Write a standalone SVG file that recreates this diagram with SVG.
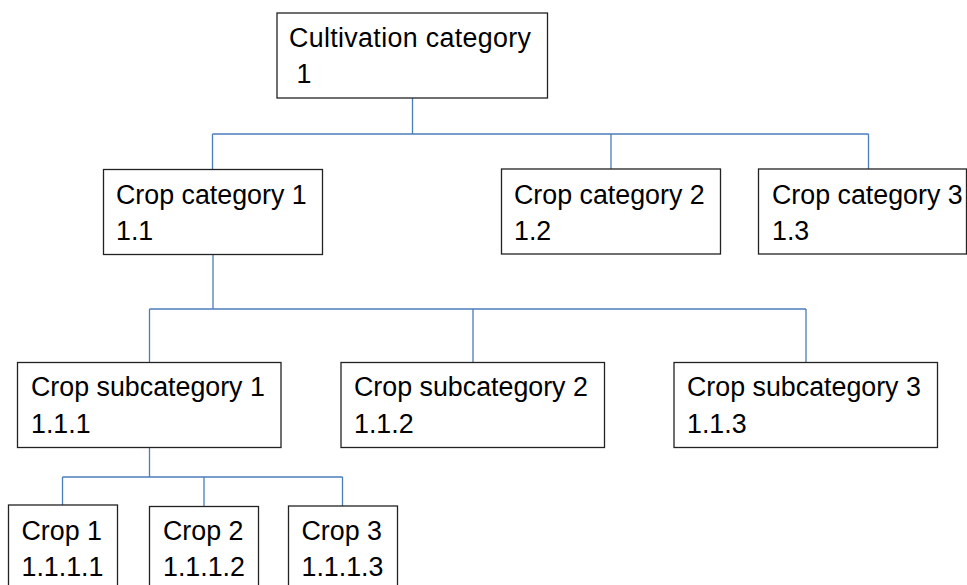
<svg xmlns="http://www.w3.org/2000/svg" width="967" height="585" viewBox="0 0 967 585">
<style>
.box{fill:#fff;stroke:#222;stroke-width:1.3}
.t{font-family:"Liberation Sans",Arial,sans-serif;font-size:26.8px;fill:#000}
.c{fill:none;stroke:#4a7ebb;stroke-width:1.3}
</style>
<rect width="967" height="585" fill="#fff"/>
<g id="connectors">
<path class="c" d="M412.5 98V134M212.5 134H868.5M212.5 134V169M611 134V169M868.5 134V169"/>
<path class="c" d="M213 254V309M149.5 309H806M149.5 309V362M473 309V362M806 309V362"/>
<path class="c" d="M149.5 447V477M62.5 477H342.5M62.5 477V505M204 477V506M342.5 477V506"/>
</g>
<g id="n1"><rect class="box" x="277" y="13" width="270.5" height="85"/><text class="t" x="289" y="47" textLength="242" lengthAdjust="spacing">Cultivation category</text><text class="t" x="289" y="83" xml:space="preserve"> 1</text></g>
<g id="n1_1"><rect class="box" x="103.5" y="169.5" width="219" height="85"/><text class="t" x="116" y="204">Crop category 1</text><text class="t" x="116" y="240">1.1</text></g>
<g id="n1_2"><rect class="box" x="501.5" y="169" width="219" height="85"/><text class="t" x="514" y="203.5">Crop category 2</text><text class="t" x="514" y="239.5">1.2</text></g>
<g id="n1_3"><rect class="box" x="758.5" y="169" width="208" height="85"/><text class="t" x="772" y="203.5">Crop category 3</text><text class="t" x="772" y="239.5">1.3</text></g>
<g id="n1_1_1"><rect class="box" x="17.5" y="362.5" width="263.5" height="85"/><text class="t" x="31" y="396">Crop subcategory 1</text><text class="t" x="31" y="432.5">1.1.1</text></g>
<g id="n1_1_2"><rect class="box" x="341" y="362.5" width="263.5" height="85"/><text class="t" x="354" y="396">Crop subcategory 2</text><text class="t" x="354" y="432.5">1.1.2</text></g>
<g id="n1_1_3"><rect class="box" x="674" y="362.5" width="263.5" height="85"/><text class="t" x="687" y="396">Crop subcategory 3</text><text class="t" x="687" y="432.5">1.1.3</text></g>
<g id="n1_1_1_1"><rect class="box" x="8.5" y="505" width="109" height="90"/><text class="t" x="21.5" y="539.5">Crop 1</text><text class="t" x="21.5" y="576">1.1.1.1</text></g>
<g id="n1_1_1_2"><rect class="box" x="149.5" y="506.5" width="109" height="90"/><text class="t" x="163" y="539.5">Crop 2</text><text class="t" x="163" y="576">1.1.1.2</text></g>
<g id="n1_1_1_3"><rect class="box" x="288.5" y="506" width="109" height="90"/><text class="t" x="301.5" y="539.5">Crop 3</text><text class="t" x="301.5" y="576">1.1.1.3</text></g>
</svg>
